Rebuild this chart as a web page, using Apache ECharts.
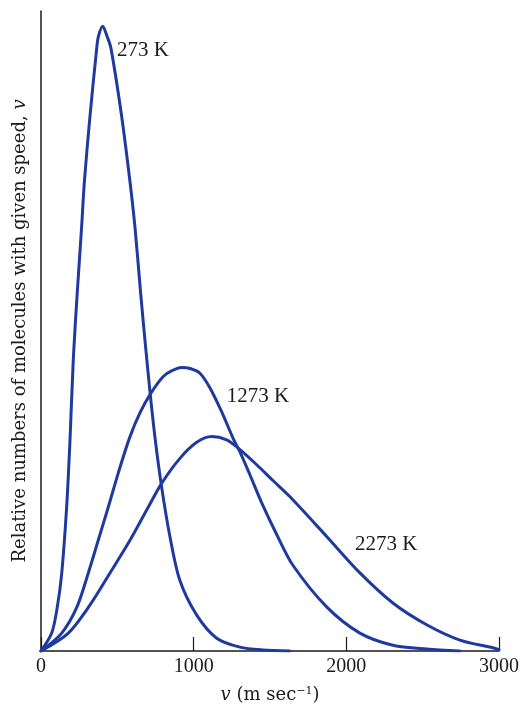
<!DOCTYPE html>
<html>
<head>
<meta charset="utf-8">
<script src="https://cdn.jsdelivr.net/npm/echarts@6/dist/echarts.min.js"></script>
<style>
  html, body { margin: 0; padding: 0; background: #ffffff; }
  #chart { width: 520px; height: 705px; }
</style>
</head>
<body>
<div id="chart"></div>
<script>
// Speeds (m/s) and relative numbers (0-100 scale)
const speed273  = [0, 70, 107, 136, 168, 190, 212, 238, 267, 284, 321, 365, 377, 404, 432, 458, 528, 583, 616, 652, 684, 714, 747, 789, 845, 910, 1020, 1151, 1303, 1454, 1630];
const rel273    = [0, 2.8, 6.9, 12.2, 22.5, 33.0, 45.8, 56.2, 66.6, 73.3, 83.6, 94.2, 96.1, 97.6, 96.1, 94.2, 83.6, 73.3, 66.1, 56.1, 47.8, 40.5, 33.3, 25.8, 17.8, 11.0, 5.6, 2.0, 0.6, 0.16, 0];

const speed1273 = [0, 136, 234, 310, 375, 441, 506, 580, 648, 720, 801, 858, 921, 982, 1041, 1107, 1183, 1259, 1303, 1369, 1445, 1544, 1650, 1871, 2089, 2305, 2526, 2744];
const rel1273   = [0, 2.8, 6.8, 12.2, 17.3, 22.5, 27.8, 33.3, 37.2, 40.3, 42.9, 43.8, 44.3, 44.1, 43.4, 41.1, 37.4, 33.2, 31.1, 27.5, 23.2, 18.2, 13.4, 6.9, 2.8, 0.9, 0.3, 0];

const speed2273 = [0, 179, 321, 452, 583, 703, 790, 910, 1020, 1118, 1216, 1292, 1413, 1521, 1631, 1871, 2089, 2305, 2526, 2744, 2960, 3000];
const rel2273   = [0, 2.8, 7.2, 12.2, 17.3, 22.5, 26.2, 30.1, 32.6, 33.5, 33.0, 31.7, 29.1, 26.6, 24.1, 17.9, 12.2, 7.5, 4.1, 1.7, 0.5, 0.2];

const seriesNames = ['273 K', '1273 K', '2273 K'];
const xTicks = [0, 1000, 2000, 3000];
// label anchor points (data coordinates: speed, relative number)
const labelSpeed = [498, 1216, 2056];
const labelRel   = [93.9, 39.7, 16.7];

const zip = (xs, ys) => xs.map((x, i) => [x, ys[i]]);
const curves = [zip(speed273, rel273), zip(speed1273, rel1273), zip(speed2273, rel2273)];

const SERIF = "'Liberation Serif', 'DejaVu Serif', serif";
const SERIF2 = "'DejaVu Serif', 'Liberation Serif', serif";
const BLUE = '#1f3a9e';
const INK = '#1a1a1a';

const chart = echarts.init(document.getElementById('chart'), null, { renderer: 'canvas' });

chart.setOption({
  backgroundColor: '#ffffff',
  animation: false,
  grid: { left: 41, right: 21, top: 11, bottom: 54, containLabel: false, outerBoundsMode: 'none' },
  xAxis: {
    type: 'value',
    min: xTicks[0],
    max: xTicks[xTicks.length - 1],
    interval: 1000,
    name: '{i|v} (m sec{sup|−1})',
    nameLocation: 'middle',
    nameGap: 35,
    nameTextStyle: {
      fontFamily: SERIF2, fontSize: 18, color: INK,
      rich: {
        i: { fontFamily: SERIF2, fontStyle: 'italic', fontSize: 18, color: INK },
        sup: { fontFamily: SERIF2, fontSize: 11, color: INK, verticalAlign: 'top', padding: [0, 0, 8, 0] }
      }
    },
    axisLine: { show: true, lineStyle: { color: INK, width: 1.5 } },
    axisTick: { show: true, inside: true, length: 14, lineStyle: { color: INK, width: 1.2 } },
    axisLabel: {
      fontFamily: SERIF, fontSize: 20, color: INK, margin: 6,
      formatter: v => xTicks.includes(v) ? String(v) : ''
    },
    splitLine: { show: false }
  },
  yAxis: {
    type: 'value',
    min: 0,
    max: 100,
    name: 'Relative numbers of molecules with given speed, {i|v}',
    nameLocation: 'middle',
    nameRotate: 90,
    nameGap: 12,
    nameTextStyle: {
      fontFamily: SERIF2, fontSize: 18, color: INK,
      rich: { i: { fontFamily: SERIF2, fontStyle: 'italic', fontSize: 18, color: INK } }
    },
    axisLine: { show: true, lineStyle: { color: INK, width: 1.5 } },
    axisTick: { show: false },
    axisLabel: { show: false },
    splitLine: { show: false }
  },
  series: curves.map((data, k) => ({
    name: seriesNames[k],
    type: 'line',
    data: data,
    smooth: 0.3,
    showSymbol: false,
    symbol: 'none',
    lineStyle: { color: BLUE, width: 3, join: 'round', cap: 'round' },
    itemStyle: { color: BLUE },
    z: 3,
    markPoint: {
      symbol: 'circle',
      symbolSize: 0,
      silent: true,
      data: [{
        coord: [labelSpeed[k], labelRel[k]],
        label: {
          show: true,
          position: 'right',
          distance: 0,
          formatter: seriesNames[k],
          fontFamily: SERIF,
          fontSize: 21,
          color: INK
        }
      }]
    }
  }))
});
</script>
</body>
</html>
